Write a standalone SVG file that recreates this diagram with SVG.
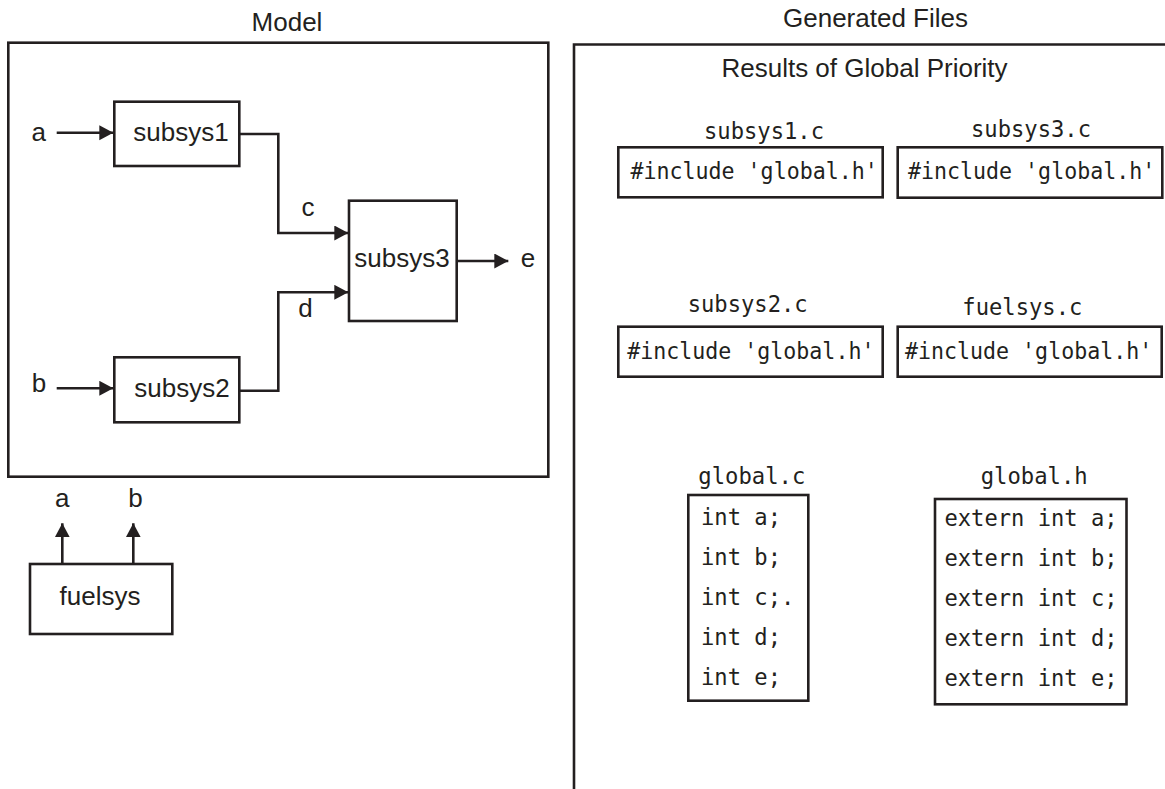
<svg xmlns="http://www.w3.org/2000/svg" width="1165" height="789" viewBox="0 0 1165 789">
<style>
.box{fill:#ffffff;stroke:#231f20;stroke-width:2.6}
.frame{fill:none;stroke:#231f20;stroke-width:2.6}
.wire{fill:none;stroke:#231f20;stroke-width:2.6}
.sans{font-family:"Liberation Sans",Arial,sans-serif;font-size:26px;fill:#231f20}
.mid{text-anchor:middle}
.mono{font-family:"DejaVu Sans Mono","Liberation Mono",monospace;font-size:23px;fill:#231f20}
</style>
<defs>
<marker id="arr" markerUnits="userSpaceOnUse" markerWidth="15" markerHeight="16" refX="14" refY="7.5" orient="auto">
<path d="M0,0 L14,7.5 L0,15 z" fill="#231f20"/>
</marker>
</defs>
<rect width="1165" height="789" fill="#ffffff"/>

<g id="model">
<text class="sans mid" x="287" y="30.5">Model</text>
<rect class="frame" x="8.3" y="42.7" width="540" height="434"/>
</g>

<g id="generated-files">
<text class="sans mid" x="875.5" y="27">Generated Files</text>
<path class="frame" d="M574,789 L574,44.5 L1165,44.5"/>
<text class="sans mid" x="864.5" y="76.7">Results of Global Priority</text>
</g>

<g id="label-a"><text class="sans mid" x="38.7" y="141">a</text></g>
<g id="label-b"><text class="sans mid" x="39" y="392">b</text></g>

<g id="subsys1">
<rect class="box" x="114.3" y="101.7" width="125" height="64.3"/>
<text class="sans mid" x="181" y="141">subsys1</text>
</g>

<g id="subsys2">
<rect class="box" x="114.3" y="357.3" width="125" height="65"/>
<text class="sans mid" x="182" y="397">subsys2</text>
</g>

<g id="subsys3">
<rect class="box" x="349" y="200.7" width="107.7" height="120.3"/>
<text class="sans mid" x="402" y="267.3">subsys3</text>
</g>

<g id="label-c"><text class="sans mid" x="308" y="216">c</text></g>
<g id="label-d"><text class="sans mid" x="305.5" y="317.3">d</text></g>
<g id="label-e"><text class="sans mid" x="528" y="267.3">e</text></g>

<g id="fuelsys">
<rect class="box" x="30" y="564" width="142.3" height="70"/>
<text class="sans mid" x="100" y="605">fuelsys</text>
</g>
<g id="label-fa"><text class="sans mid" x="62.3" y="507">a</text></g>
<g id="label-fb"><text class="sans mid" x="135.5" y="507">b</text></g>

<g id="connectors">
<path class="wire" d="M56.7,132.7 L113.3,132.7" marker-end="url(#arr)"/>
<path class="wire" d="M56.7,388.3 L113.3,388.3" marker-end="url(#arr)"/>
<path class="wire" d="M239.3,134 L278.3,134 L278.3,233 L348.3,233" marker-end="url(#arr)"/>
<path class="wire" d="M239.3,390.7 L278.3,390.7 L278.3,292.3 L348.3,292.3" marker-end="url(#arr)"/>
<path class="wire" d="M456.7,261 L508.3,261" marker-end="url(#arr)"/>
<path class="wire" d="M62.3,564 L62.3,523.3" marker-end="url(#arr)"/>
<path class="wire" d="M133.3,564 L133.3,523.3" marker-end="url(#arr)"/>
</g>

<g id="subsys1-c">
<text class="mono" x="704" y="139.3" textLength="120" lengthAdjust="spacingAndGlyphs">subsys1.c</text>
<rect class="box" x="618.3" y="147.3" width="264.4" height="50"/>
<text class="mono" transform="translate(630.5 178.8) scale(0.94 1)">#include 'global.h'</text>
</g>

<g id="subsys3-c">
<text class="mono" x="971" y="137.3" textLength="120" lengthAdjust="spacingAndGlyphs">subsys3.c</text>
<rect class="box" x="897.7" y="147.3" width="264.6" height="50.4"/>
<text class="mono" transform="translate(908 178.8) scale(0.94 1)">#include 'global.h'</text>
</g>

<g id="subsys2-c">
<text class="mono" x="687.7" y="312.3" textLength="120" lengthAdjust="spacingAndGlyphs">subsys2.c</text>
<rect class="box" x="618.3" y="326.7" width="264.4" height="50"/>
<text class="mono" transform="translate(627.2 358.8) scale(0.94 1)">#include 'global.h'</text>
</g>

<g id="fuelsys-c">
<text class="mono" x="962.3" y="315" textLength="120" lengthAdjust="spacingAndGlyphs">fuelsys.c</text>
<rect class="box" x="897.7" y="326.7" width="264" height="50"/>
<text class="mono" transform="translate(905 358.8) scale(0.94 1)">#include 'global.h'</text>
</g>

<g id="global-c">
<text class="mono" x="698.3" y="484" textLength="107" lengthAdjust="spacingAndGlyphs">global.c</text>
<rect class="box" x="688.3" y="495" width="120" height="205.7"/>
<text class="mono" x="701" y="524.5" textLength="80" lengthAdjust="spacingAndGlyphs">int a;</text>
<text class="mono" x="701" y="564.5" textLength="80" lengthAdjust="spacingAndGlyphs">int b;</text>
<text class="mono" x="701" y="604.5" textLength="93.4" lengthAdjust="spacingAndGlyphs">int c;.</text>
<text class="mono" x="701" y="644.5" textLength="80" lengthAdjust="spacingAndGlyphs">int d;</text>
<text class="mono" x="701" y="684.5" textLength="80" lengthAdjust="spacingAndGlyphs">int e;</text>
</g>

<g id="global-h">
<text class="mono" x="980.7" y="484" textLength="107" lengthAdjust="spacingAndGlyphs">global.h</text>
<rect class="box" x="935" y="499" width="191.5" height="205.3"/>
<text class="mono" x="944.5" y="526" textLength="173" lengthAdjust="spacingAndGlyphs">extern int a;</text>
<text class="mono" x="944.5" y="566" textLength="173" lengthAdjust="spacingAndGlyphs">extern int b;</text>
<text class="mono" x="944.5" y="606" textLength="173" lengthAdjust="spacingAndGlyphs">extern int c;</text>
<text class="mono" x="944.5" y="646" textLength="173" lengthAdjust="spacingAndGlyphs">extern int d;</text>
<text class="mono" x="944.5" y="686" textLength="173" lengthAdjust="spacingAndGlyphs">extern int e;</text>
</g>
</svg>
